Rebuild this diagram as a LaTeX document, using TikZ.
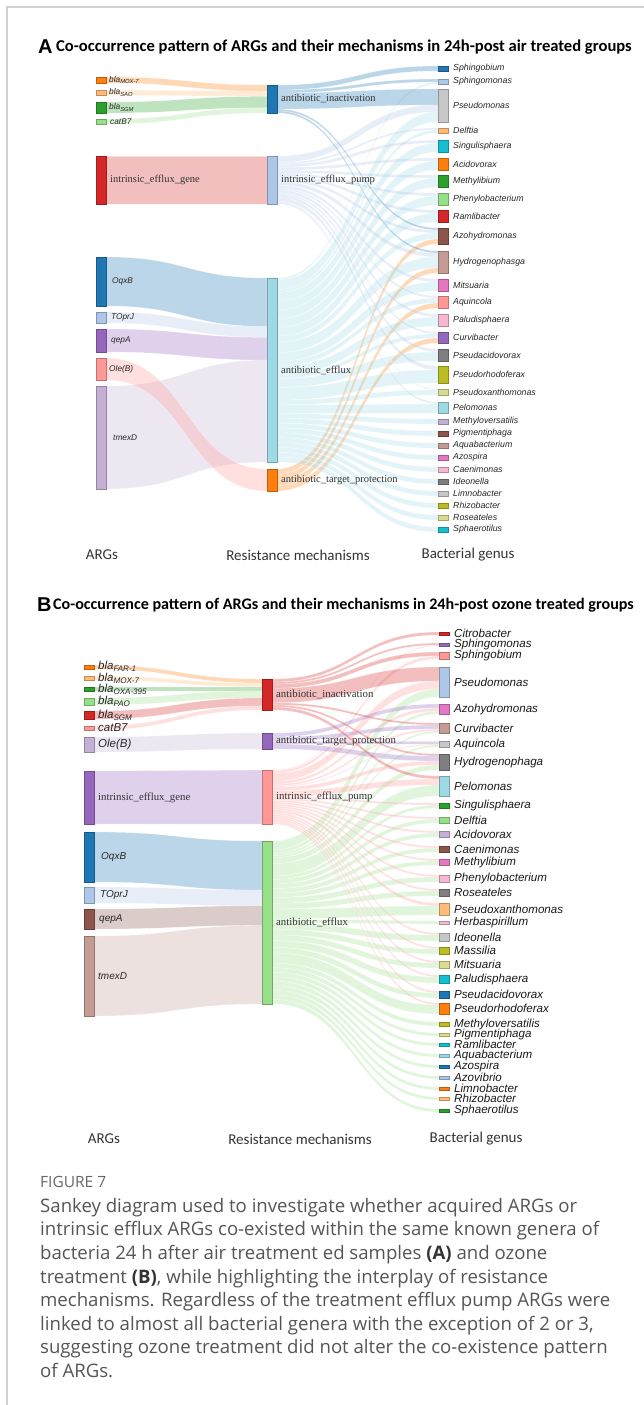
\documentclass[tikz,border=0pt]{standalone}
\usepackage{fontspec}
\setmainfont{Liberation Serif}
\newfontfamily\arialf{Liberation Sans}
\newfontfamily\calf{Carlito}
\newfontfamily\capf{Open Sans}
\usetikzlibrary{calc,backgrounds}
\definecolor{k1}{HTML}{1F77B4}\definecolor{k2}{HTML}{AEC7E8}
\definecolor{k3}{HTML}{FF7F0E}\definecolor{k4}{HTML}{FFBB78}
\definecolor{k5}{HTML}{2CA02C}\definecolor{k6}{HTML}{98DF8A}
\definecolor{k7}{HTML}{D62728}\definecolor{k8}{HTML}{FF9896}
\definecolor{k9}{HTML}{9467BD}\definecolor{k10}{HTML}{C5B0D5}
\definecolor{k11}{HTML}{8C564B}\definecolor{k12}{HTML}{C49C94}
\definecolor{k13}{HTML}{E377C2}\definecolor{k14}{HTML}{F7B6D2}
\definecolor{k15}{HTML}{7F7F7F}\definecolor{k16}{HTML}{C7C7C7}
\definecolor{k17}{HTML}{BCBD22}\definecolor{k18}{HTML}{DBDB8D}
\definecolor{k19}{HTML}{17BECF}\definecolor{k20}{HTML}{9EDAE5}
\definecolor{framec}{HTML}{D0D0D0}
\definecolor{capc}{HTML}{555555}
\definecolor{axc}{HTML}{333333}

\newcommand\SetG[2]{\expandafter\xdef\csname #1\endcsname{#2}}
\newcommand\Nd[5]{%
  \SetG{Nh@#1}{#4}\SetG{Nc@#1}{#5}\SetG{Nos@#1}{0}\SetG{Nis@#1}{0}%
  \SetG{Noo@#1}{0}\SetG{Nio@#1}{0}%
  \node[nb, fill=#5, draw=#5!75!black, minimum height=#4pt] (#1) at (#2,#3) {};}
\newcommand\FlSum[3]{%
  \pgfmathsetmacro\FlTmp{\csname Nos@#1\endcsname+#3}\SetG{Nos@#1}{\FlTmp}%
  \pgfmathsetmacro\FlTmp{\csname Nis@#2\endcsname+#3}\SetG{Nis@#2}{\FlTmp}}
\newcommand\FlDraw[3]{%
  \pgfmathsetmacro\FlWs{#3/\csname Nos@#1\endcsname*\csname Nh@#1\endcsname}%
  \pgfmathsetmacro\FlWt{#3/\csname Nis@#2\endcsname*\csname Nh@#2\endcsname}%
  \edef\FlSo{\csname Noo@#1\endcsname}%
  \edef\FlTi{\csname Nio@#2\endcsname}%
  \edef\FlCol{\csname Nc@#1\endcsname}%
  \path ($(#1.north east)+(0,\FlSo)$) coordinate (p1)
        ($(#1.north east)+(0,\FlSo+\FlWs)$) coordinate (p2)
        ($(#2.north west)+(0,\FlTi)$) coordinate (q1)
        ($(#2.north west)+(0,\FlTi+\FlWt)$) coordinate (q2)
        ($(p1)!0.5!(q1)$) coordinate (m);
  \fill[band, fill=\FlCol] (p1) .. controls (m|-p1) and (m|-q1) .. (q1) -- (q2)
     .. controls (m|-q2) and (m|-p2) .. (p2) -- cycle;
  \pgfmathsetmacro\FlTmp{\FlSo+\FlWs}\SetG{Noo@#1}{\FlTmp}%
  \pgfmathsetmacro\FlTmp{\FlTi+\FlWt}\SetG{Nio@#2}{\FlTmp}}
\newcommand\bla[1]{bla\textsubscript{#1}}

\newcommand\FlowsA{%
 \Fl{Amox}{Aai}{6}\Fl{Asao}{Aai}{5}\Fl{Asgm}{Aai}{11}\Fl{Acat}{Aai}{5}%
 \Fl{Aieg}{Aiep}{48}%
 \Fl{Aoqx}{Aae}{49}\Fl{Atop}{Aae}{11}\Fl{Aqep}{Aae}{23}\Fl{Atmx}{Aae}{103}%
 \Fl{Aole}{Aatp}{22}%
 \Fl{Aai}{Asphb}{5}%
 \Fl{Aai}{Asphm}{3}\Fl{Aae}{Asphm}{2}%
 \Fl{Aai}{Apseu}{16}\Fl{Aiep}{Apseu}{7}\Fl{Aae}{Apseu}{10}%
 \Fl{Aiep}{Adelf}{2}\Fl{Aae}{Adelf}{3}%
 \Fl{Aiep}{Asing}{3}\Fl{Aae}{Asing}{9}%
 \Fl{Aiep}{Aacid}{3}\Fl{Aae}{Aacid}{9}%
 \Fl{Aiep}{Ameth}{3}\Fl{Aae}{Ameth}{9}%
 \Fl{Aiep}{Aphen}{3}\Fl{Aae}{Aphen}{9}%
 \Fl{Aiep}{Araml}{3}\Fl{Aae}{Araml}{9}%
 \Fl{Aai}{Aazoh}{2}\Fl{Aiep}{Aazoh}{3}\Fl{Aae}{Aazoh}{6}\Fl{Aatp}{Aazoh}{5}%
 \Fl{Aai}{Ahydr}{2}\Fl{Aiep}{Ahydr}{4}\Fl{Aae}{Ahydr}{11}\Fl{Aatp}{Ahydr}{5}%
 \Fl{Aiep}{Amits}{3}\Fl{Aae}{Amits}{9}%
 \Fl{Aiep}{Aaqui}{2}\Fl{Aae}{Aaqui}{5}\Fl{Aatp}{Aaqui}{5}%
 \Fl{Aiep}{Apalu}{3}\Fl{Aae}{Apalu}{9}%
 \Fl{Aiep}{Acurv}{2}\Fl{Aae}{Acurv}{4}\Fl{Aatp}{Acurv}{5}%
 \Fl{Aiep}{Apsac}{3}\Fl{Aae}{Apsac}{9}%
 \Fl{Aiep}{Apsrh}{4}\Fl{Aae}{Apsrh}{13}%
 \Fl{Aiep}{Apsxa}{1}\Fl{Aae}{Apsxa}{5}%
 \Fl{Aiep}{Apelo}{2}\Fl{Aae}{Apelo}{9}%
 \Fl{Aae}{Ameve}{5}\Fl{Aae}{Apigm}{5}\Fl{Aae}{Aaqua}{5}\Fl{Aae}{Aazos}{5}%
 \Fl{Aae}{Acaen}{5}\Fl{Aae}{Aideo}{5}\Fl{Aae}{Alimn}{5}\Fl{Aae}{Arhiz}{5}%
 \Fl{Aae}{Arose}{5}\Fl{Aae}{Aspha}{5}}

\newcommand\FlowsB{%
 \Fl{Bfar}{Bai}{4}\Fl{Bmox}{Bai}{4}\Fl{Boxa}{Bai}{4}\Fl{Bpao}{Bai}{7}%
 \Fl{Bsgm}{Bai}{8}\Fl{Bcat}{Bai}{4}%
 \Fl{Bole}{Batp}{15}%
 \Fl{Bieg}{Biep}{53}%
 \Fl{Boqx}{Bae}{50}\Fl{Btop}{Bae}{16}\Fl{Bqep}{Bae}{20}\Fl{Btmx}{Bae}{80}%
 \Fl{Bai}{Bcitr}{3}%
 \Fl{Bai}{Bsphm}{2}\Fl{Biep}{Bsphm}{1}%
 \Fl{Bai}{Bsphb}{4}\Fl{Biep}{Bsphb}{3}%
 \Fl{Bai}{Bpseu}{14}\Fl{Biep}{Bpseu}{8}\Fl{Bae}{Bpseu}{8}%
 \Fl{Batp}{Bazoh}{4}\Fl{Biep}{Bazoh}{3}\Fl{Bae}{Bazoh}{3}%
 \Fl{Bai}{Bcurv}{2}\Fl{Batp}{Bcurv}{4}\Fl{Biep}{Bcurv}{2}\Fl{Bae}{Bcurv}{2}%
 \Fl{Batp}{Baqui}{3}\Fl{Biep}{Baqui}{1}\Fl{Bae}{Baqui}{2}%
 \Fl{Bai}{Bhydr}{2}\Fl{Batp}{Bhydr}{5}\Fl{Biep}{Bhydr}{4}\Fl{Bae}{Bhydr}{5}%
 \Fl{Bai}{Bpelo}{3}\Fl{Biep}{Bpelo}{6}\Fl{Bae}{Bpelo}{11}%
 \Fl{Biep}{Bsing}{2}\Fl{Bae}{Bsing}{3}%
 \Fl{Biep}{Bdelf}{2}\Fl{Bae}{Bdelf}{4}%
 \Fl{Biep}{Bacid}{2}\Fl{Bae}{Bacid}{4}%
 \Fl{Biep}{Bcaen}{2}\Fl{Bae}{Bcaen}{4}%
 \Fl{Biep}{Bmeth}{2}\Fl{Bae}{Bmeth}{4}%
 \Fl{Biep}{Bphen}{2}\Fl{Bae}{Bphen}{5}%
 \Fl{Biep}{Brose}{2}\Fl{Bae}{Brose}{5}%
 \Fl{Biep}{Bpsxa}{3}\Fl{Bae}{Bpsxa}{9}%
 \Fl{Bae}{Bherb}{3}%
 \Fl{Biep}{Bideo}{2}\Fl{Bae}{Bideo}{6}%
 \Fl{Biep}{Bmass}{2}\Fl{Bae}{Bmass}{5}%
 \Fl{Biep}{Bmits}{2}\Fl{Bae}{Bmits}{5}%
 \Fl{Biep}{Bpalu}{2}\Fl{Bae}{Bpalu}{6}%
 \Fl{Biep}{Bpsac}{2}\Fl{Bae}{Bpsac}{5}%
 \Fl{Biep}{Bpsrh}{2}\Fl{Bae}{Bpsrh}{9}%
 \Fl{Bae}{Bmeve}{4}\Fl{Bae}{Bpigm}{4}\Fl{Bae}{Braml}{4}\Fl{Bae}{Baqua}{4}%
 \Fl{Bae}{Bazos}{4}\Fl{Bae}{Bazov}{4}\Fl{Bae}{Blimn}{4}\Fl{Bae}{Brhiz}{4}%
 \Fl{Bae}{Bspha}{4}}

\tikzset{
  nb/.style={rectangle, inner sep=0pt, outer sep=0pt, minimum width=10pt,
    line width=0.4pt, anchor=north west},
  band/.style={fill opacity=0.3, draw=white, draw opacity=0.5, line width=0.3pt},
  lA/.style={anchor=west, inner sep=0pt, font=\arialf\itshape\fontsize{8.3}{9}\selectfont, text=black!85},
  mA/.style={anchor=west, inner sep=0pt, font=\fontsize{10.5}{12}\selectfont, text=black!80},
  rA/.style={anchor=west, inner sep=0pt, font=\arialf\itshape\fontsize{8.8}{10}\selectfont, text=black!85},
  lB/.style={anchor=west, inner sep=0pt, font=\arialf\itshape\fontsize{11.5}{12}\selectfont, text=black!85},
  lBs/.style={anchor=west, inner sep=0pt, font=\arialf\itshape\fontsize{10}{11}\selectfont, text=black!85},
  mB/.style={anchor=west, inner sep=0pt, font=\fontsize{10.8}{12}\selectfont, text=black!80},
  rB/.style={anchor=west, inner sep=0pt, font=\arialf\itshape\fontsize{11.6}{12}\selectfont, text=black!90},
  axl/.style={inner sep=0pt, font=\calf\fontsize{15}{16}\selectfont, text=axc},
  ttlL/.style={anchor=west, inner sep=0pt, font=\arialf\bfseries\fontsize{20}{20}\selectfont},
  ttlA/.style={anchor=west, inner sep=0pt, font=\calf\bfseries\fontsize{16.6}{17}\selectfont},
  ttlB/.style={anchor=west, inner sep=0pt, font=\calf\bfseries\fontsize{16.1}{17}\selectfont},
}

\begin{document}
\begin{tikzpicture}[x=1pt, y=-1pt]
\useasboundingbox (0,0) rectangle (644,1405);
\draw[framec, line width=1.2pt] (644,7) coordinate (fr1) -- (7,7) coordinate (fr2) -- (7,1405) coordinate (fr3);

% ---------------- Panel A ----------------
\node[ttlL] (tA) at (38,47) {A};
\node[ttlA] (tA2) at (56,47) {Co-occurrence pattern of ARGs and their mechanisms in 24h-post air treated groups};

\Nd{Amox}{96}{77}{6}{k3}
\Nd{Asao}{96}{90}{5}{k4}
\Nd{Asgm}{96}{102}{11}{k5}
\Nd{Acat}{96}{119}{5}{k6}
\Nd{Aieg}{96}{156}{48}{k7}
\Nd{Aoqx}{96}{257}{49}{k1}
\Nd{Atop}{96}{312}{11}{k2}
\Nd{Aqep}{96}{329}{23}{k9}
\Nd{Aole}{96}{358}{22}{k8}
\Nd{Atmx}{96}{386}{103}{k10}
\node[lA] (Amox-l) at ($(Amox.east)+(3,0)$) {\bla{MOX-7}};
\node[lA] (Asao-l) at ($(Asao.east)+(3,0)$) {\bla{SAO}};
\node[lA] (Asgm-l) at ($(Asgm.east)+(3,0)$) {\bla{SGM}};
\node[lA] (Acat-l) at ($(Acat.east)+(4,0)$) {catB7};
\node[mA] (Aieg-l) at ($(Aieg.east)+(4,0)$) {intrinsic\_efflux\_gene};
\node[lA] (Aoqx-l) at ($(Aoqx.east)+(6,0)$) {OqxB};
\node[lA] (Atop-l) at ($(Atop.east)+(5,0)$) {TOprJ};
\node[lA] (Aqep-l) at ($(Aqep.east)+(5,0)$) {qepA};
\node[lA] (Aole-l) at ($(Aole.east)+(3,0)$) {Ole(B)};
\node[lA] (Atmx-l) at ($(Atmx.east)+(7,0)$) {tmexD};

\Nd{Aai}{267}{85}{28}{k1}
\Nd{Aiep}{267}{156}{48}{k2}
\Nd{Aae}{267}{278}{184}{k20}
\Nd{Aatp}{267}{469}{22}{k3}
\node[mA] (Aai-l) at ($(Aai.east)+(4,0)$) {antibiotic\_inactivation};
\node[mA] (Aiep-l) at ($(Aiep.east)+(4,0)$) {intrinsic\_efflux\_pump};
\node[mA] (Aae-l) at ($(Aae.east)+(4,0)$) {antibiotic\_efflux};
\node[mA] (Aatp-l) at ($(Aatp.east)+(4,0)$) {antibiotic\_target\_protection};

\foreach \n/\y/\h/\c/\lb in {sphb/66/5/k1/Sphingobium, sphm/79/5/k2/Sphingomonas,
  pseu/89/33/k16/Pseudomonas, delf/128/5/k4/Delftia, sing/140/12/k19/Singulisphaera,
  acid/158/12/k3/Acidovorax, meth/175/12/k5/Methylibium, phen/193/12/k6/Phenylobacterium,
  raml/210/12/k7/Ramlibacter, azoh/228/16/k11/Azohydromonas, hydr/251/22/k12/Hydrogenophasga,
  mits/279/12/k13/Mitsuaria, aqui/296/12/k8/Aquincola, palu/314/12/k14/Paludisphaera,
  curv/332/11/k9/Curvibacter, psac/349/12/k15/Pseudacidovorax, psrh/366/17/k17/Pseudorhodoferax,
  psxa/389/6/k18/Pseudoxanthomonas, pelo/402/11/k20/Pelomonas, meve/419/5/k10/Methyloversatilis,
  pigm/431/5/k11/Pigmentiphaga, aqua/443/5/k12/Aquabacterium, azos/455/5/k13/Azospira,
  caen/467/5/k14/Caenimonas, ideo/479/5/k15/Ideonella, limn/491/5/k16/Limnobacter,
  rhiz/503/5/k17/Rhizobacter, rose/515/5/k18/Roseateles, spha/527/5/k19/Sphaerotilus}
{\Nd{A\n}{438}{\y}{\h}{\c}
 \node[rA] (A\n-l) at ($(A\n.east)+(5,0)$) {\lb};}

\let\Fl\FlSum \FlowsA
\begin{scope}[on background layer]
\let\Fl\FlDraw \FlowsA
\end{scope}

\node[axl] (axA1) at (102,555) {ARGs};
\node[axl] (axA2) at (298,555) {Resistance mechanisms};
\node[axl] (axA3) at (468,555) {Bacterial genus};

% ---------------- Panel B ----------------
\node[ttlL] (tB) at (37,605) {B};
\node[ttlB] (tB2) at (53,605) {Co-occurrence pattern of ARGs and their mechanisms in 24h-post ozone treated groups};

\Nd{Bfar}{84}{665}{4}{k3}
\Nd{Bmox}{84}{676}{4}{k4}
\Nd{Boxa}{84}{687}{4}{k5}
\Nd{Bpao}{84}{698}{7}{k6}
\Nd{Bsgm}{84}{711}{8}{k7}
\Nd{Bcat}{84}{726}{4}{k8}
\Nd{Bole}{84}{737}{15}{k10}
\Nd{Bieg}{84}{771}{53}{k9}
\Nd{Boqx}{84}{832}{50}{k1}
\Nd{Btop}{84}{887}{16}{k2}
\Nd{Bqep}{84}{909}{20}{k11}
\Nd{Btmx}{84}{936}{80}{k12}
\node[lB] (Bfar-l) at ($(Bfar.east)+(4,-1)$) {\bla{FAR-1}};
\node[lB] (Bmox-l) at ($(Bmox.east)+(4,0)$) {\bla{MOX-7}};
\node[lB] (Boxa-l) at ($(Boxa.east)+(4,0)$) {\bla{OXA-395}};
\node[lB] (Bpao-l) at ($(Bpao.east)+(4,0)$) {\bla{PAO}};
\node[lB] (Bsgm-l) at ($(Bsgm.east)+(4,0)$) {\bla{SGM}};
\node[lB] (Bcat-l) at ($(Bcat.east)+(4,0)$) {catB7};
\node[lB] (Bole-l) at ($(Bole.east)+(4,0)$) {Ole(B)};
\node[mB] (Bieg-l) at ($(Bieg.east)+(4,0)$) {intrinsic\_efflux\_gene};
\node[lBs] (Boqx-l) at ($(Boqx.east)+(7,0)$) {OqxB};
\node[lBs] (Btop-l) at ($(Btop.east)+(6,0)$) {TOprJ};
\node[lBs] (Bqep-l) at ($(Bqep.east)+(5,0)$) {qepA};
\node[lBs] (Btmx-l) at ($(Btmx.east)+(4,0)$) {tmexD};

\Nd{Bai}{262}{679}{31}{k7}
\Nd{Batp}{262}{733}{16}{k9}
\Nd{Biep}{262}{770}{54}{k8}
\Nd{Bae}{262}{841}{163}{k6}
\node[mB] (Bai-l) at ($(Bai.east)+(4,0)$) {antibiotic\_inactivation};
\node[mB] (Batp-l) at ($(Batp.east)+(4,0)$) {antibiotic\_target\_protection};
\node[mB] (Biep-l) at ($(Biep.east)+(4,0)$) {intrinsic\_efflux\_pump};
\node[mB] (Bae-l) at ($(Bae.east)+(4,0)$) {antibiotic\_efflux};

\foreach \n/\y/\h/\c/\lb in {citr/632/3/k7/Citrobacter, sphm/643/3/k9/Sphingomonas,
  sphb/652/7/k8/Sphingobium, pseu/667/30/k2/Pseudomonas, azoh/704/10/k13/Azohydromonas,
  curv/723/10/k12/Curvibacter, aqui/741/6/k16/Aquincola, hydr/754/16/k15/Hydrogenophaga,
  pelo/776/20/k20/Pelomonas, sing/803/5/k5/Singulisphaera, delf/817/6/k6/Delftia,
  acid/831/6/k10/Acidovorax, caen/846/6/k11/Caenimonas, meth/859/6/k13/Methylibium,
  phen/875/7/k14/Phenylobacterium, rose/889/7/k15/Roseateles, psxa/903/12/k4/Pseudoxanthomonas,
  herb/921/3/k14/Herbaspirillum, ideo/933/8/k16/Ideonella, mass/947/7/k17/Massilia,
  mits/961/7/k18/Mitsuaria, palu/975/8/k19/Paludisphaera, psac/991/7/k1/Pseudacidovorax,
  psrh/1003/11/k3/Pseudorhodoferax, meve/1022/4/k17/Methyloversatilis, pigm/1033/3/k18/Pigmentiphaga,
  raml/1043/3/k19/Ramlibacter, aqua/1054/3/k20/Aquabacterium, azos/1065/3/k1/Azospira,
  azov/1076/3/k2/Azovibrio, limn/1087/3/k3/Limnobacter, rhiz/1097/3/k4/Rhizobacter,
  spha/1109/3/k5/Sphaerotilus}
{\Nd{B\n}{439}{\y}{\h}{\c}
 \node[rB] (B\n-l) at ($(B\n.east)+(5,0)$) {\lb};}

\let\Fl\FlSum \FlowsB
\begin{scope}[on background layer]
\let\Fl\FlDraw \FlowsB
\end{scope}

\node[axl] (axB1) at (104,1139) {ARGs};
\node[axl] (axB2) at (300,1139) {Resistance mechanisms};
\node[axl] (axB3) at (476,1139) {Bacterial genus};

% ---------------- Caption ----------------
\node[anchor=west, inner sep=0pt, font=\capf\fontsize{15.5}{17}\selectfont, text=black!60] (fig) at (40,1182) {FIGURE 7};
\node[anchor=north west, inner sep=0pt, align=left, font=\capf\fontsize{18.6}{23.6}\selectfont, text=capc] (cap) at (40,1198) {%
Sankey diagram used to investigate whether acquired ARGs or\\
intrinsic efflux ARGs co-existed within the same known genera of\\
bacteria 24 h after air treatment ed samples \textbf{\color{black!80}(A)} and ozone\\
treatment \textbf{\color{black!80}(B)}, while highlighting the interplay of resistance\\
mechanisms. Regardless of the treatment efflux pump ARGs were\\
linked to almost all bacterial genera with the exception of 2 or 3,\\
suggesting ozone treatment did not alter the co-existence pattern\\
of ARGs.};
\end{tikzpicture}
\end{document}
